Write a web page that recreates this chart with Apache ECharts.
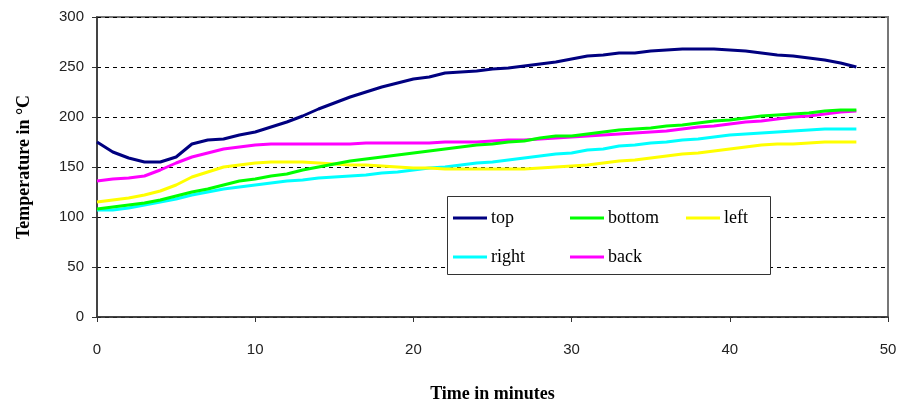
<meta charset="utf-8">
<script src="https://cdn.jsdelivr.net/npm/echarts@6/dist/echarts.min.js"></script>
<style>
html, body { margin:0; padding:0; background:#fff; }
#chart { width:904px; height:409px; }
</style>
<body>
<div id="chart"></div>
<script>

// minutes
var minutes = [0,1,2,3,4,5,6,7,8,9,10,11,12,13,14,15,16,17,18,19,20,21,22,23,24,
	25,26,27,28,29,30,31,32,33,34,35,36,37,38,39,40,41,42,43,44,45,46,47,48];

var topVals = [175,165,159,155,155,160,173,177,178,182,185,190,195,201,208,214,220,225,230,234,
	238,240,244,245,246,248,249,251,253,255,258,261,262,264,264,266,267,268,268,268,
	267,266,264,262,261,259,257,254,250];
var bottomVals = [108,110,112,114,117,121,125,128,132,136,138,141,143,147,150,153,156,158,160,162,
	164,166,168,170,172,173,175,176,179,181,181,183,185,187,188,189,191,192,194,196,
	197,199,201,202,203,204,206,207,207];
var leftVals = [115,117,119,122,126,132,140,145,150,152,154,155,155,155,154,153,152,152,151,150,
	149,149,148,148,148,148,148,148,149,150,151,152,154,156,157,159,161,163,164,166,
	168,170,172,173,173,174,175,175,175];
var rightVals = [107,107,109,112,115,118,122,125,128,130,132,134,136,137,139,140,141,142,144,145,
	147,149,150,152,154,155,157,159,161,163,164,167,168,171,172,174,175,177,178,180,
	182,183,184,185,186,187,188,188,188];
var backVals = [136,138,139,141,147,154,160,164,168,170,172,173,173,173,173,173,173,174,174,174,
	174,174,175,175,175,176,177,177,178,179,180,181,182,183,184,185,186,188,190,191,
	193,195,196,198,200,201,203,205,206];

var seriesNames = ['top','bottom','left','right','back'];
var seriesColors = ['#000080','#00FF00','#FFFF00','#00FFFF','#FF00FF'];
var seriesVals = [topVals, bottomVals, leftVals, rightVals, backVals];

var serif = '"Liberation Serif", "Times New Roman", serif';
var sans = '"Liberation Sans", Arial, sans-serif';

var pairs = function(vals){
	var out = [], i = 0;
	for(; i < minutes.length; ++i) out.push([ minutes[i], vals[i] ]);
	return out;
}

var chartSeries = [];
for(var k = 0; k < seriesNames.length; ++k){
	chartSeries.push({
		name: seriesNames[k], type: 'line', symbol: 'none',
		data: pairs(seriesVals[k]),
		lineStyle: { color: seriesColors[k], width: 3 },
		itemStyle: { color: seriesColors[k] },
		z: 10 - k
	});
}

var legendBase = function(left, names){
	return {
		left: left, top: 209, orient: 'vertical', itemGap: 21, z: 20, padding: 0,
		icon: 'rect', itemWidth: 34, itemHeight: 3,
		selectedMode: false, data: names,
		textStyle: { fontFamily: serif, fontSize: 18, color: '#000', padding: [0,0,0,-1] }
	};
}

var chart = echarts.init(document.getElementById('chart'));
chart.setOption({
	animation: false,
	grid: { left: 97, right: 16, top: 17, bottom: 92, show: true, borderColor: '#777', borderWidth: 2 },
	xAxis: {
		type: 'value', min: 0, max: 50, interval: 10,
		name: 'Time in minutes', nameLocation: 'middle', nameGap: 68,
		nameTextStyle: { fontFamily: serif, fontSize: 18, fontWeight: 'bold', color: '#000' },
		axisLine: { lineStyle: { color: '#333', width: 1.5 } },
		axisTick: { show: true, length: 5, lineStyle: { color: '#333' } },
		axisLabel: { fontFamily: sans, fontSize: 15, color: '#222', margin: 25 },
		splitLine: { show: false }
	},
	yAxis: {
		type: 'value', min: 0, max: 300, interval: 50,
		name: 'Temperature in °C', nameLocation: 'middle', nameGap: 64, nameRotate: 90,
		nameTextStyle: { fontFamily: serif, fontSize: 18, fontWeight: 'bold', color: '#000' },
		axisLine: { show: true, lineStyle: { color: '#333', width: 1.5 } },
		axisTick: { show: true, length: 5, lineStyle: { color: '#333' } },
		axisLabel: { fontFamily: sans, fontSize: 15, color: '#222', margin: 13 },
		splitLine: { show: true, lineStyle: { color: '#000', type: [4,4], width: 1 } }
	},
	legend: [
		legendBase(453, ['top','right']),
		legendBase(570, ['bottom','back']),
		legendBase(686, ['left'])
	],
	graphic: [{
		type: 'rect', left: 447, top: 196, z: 1,
		shape: { width: 323, height: 78 },
		style: { fill: '#fff', stroke: '#333', lineWidth: 1 }
	}],
	series: chartSeries
});
</script>
</body>
